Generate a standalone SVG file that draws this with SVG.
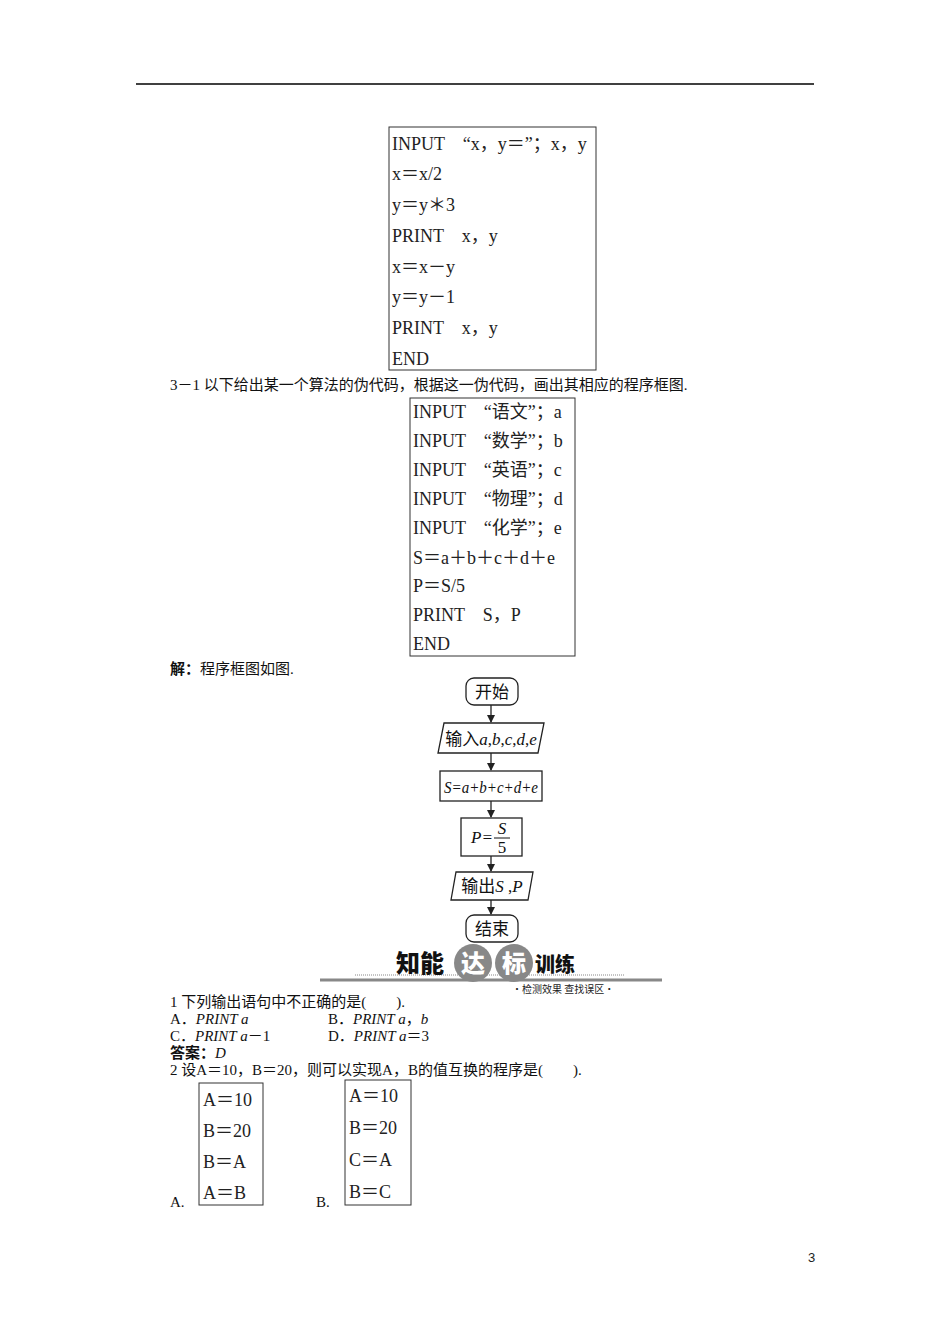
<svg xmlns="http://www.w3.org/2000/svg" width="950" height="1344" viewBox="0 0 950 1344">
<style>
.t{font-family:"Liberation Serif","Noto Sans CJK SC",serif;font-size:18px;fill:#222}
.s{font-family:"Liberation Serif","Noto Sans CJK SC",serif;font-size:15px;fill:#111}
.f{font-family:"Liberation Serif","Noto Sans CJK SC",serif;font-size:17px;fill:#111}
.b{fill:none;stroke:#333;stroke-width:1}
.n{fill:#fff;stroke:#222;stroke-width:1.3}
.c{stroke:#222;stroke-width:1.3;fill:none;marker-end:url(#a)}
</style>
<defs><marker id="a" markerWidth="8" markerHeight="8" refX="7" refY="4" orient="auto" markerUnits="userSpaceOnUse"><path d="M0,0 L8,4 L0,8z" fill="#222"/></marker></defs>
<rect width="950" height="1344" fill="#fff"/>
<line x1="136" y1="84" x2="814" y2="84" stroke="#000" stroke-width="1.3"/>
<rect class="b" x="389" y="127" width="207" height="243"/>
<g class="t"><text x="392" y="150">INPUT　“x，y＝”；x，y</text><text x="392" y="180">x＝x/2</text><text x="392" y="211">y＝y＊3</text><text x="392" y="242">PRINT　x，y</text><text x="392" y="273">x＝x－y</text><text x="392" y="303">y＝y－1</text><text x="392" y="334">PRINT　x，y</text><text x="392" y="365">END</text></g>
<text class="s" x="170" y="390">3－1 以下给出某一个算法的伪代码，根据这一伪代码，画出其相应的程序框图.</text>
<rect class="b" x="410" y="398" width="165" height="258"/>
<g class="t"><text x="413" y="418">INPUT　“语文”；a</text><text x="413" y="447">INPUT　“数学”；b</text><text x="413" y="476">INPUT　“英语”；c</text><text x="413" y="505">INPUT　“物理”；d</text><text x="413" y="534">INPUT　“化学”；e</text><text x="413" y="564">S＝a＋b＋c＋d＋e</text><text x="413" y="592">P＝S/5</text><text x="413" y="621">PRINT　S，P</text><text x="413" y="650">END</text></g>
<text class="s" x="170" y="674"><tspan font-weight="bold">解：</tspan>程序框图如图.</text>
<g id="connectors">
<line class="c" x1="491" y1="705" x2="491" y2="722"/>
<line class="c" x1="491" y1="753" x2="491" y2="770"/>
<line class="c" x1="491" y1="801" x2="491" y2="817"/>
<line class="c" x1="491" y1="856" x2="491" y2="871"/>
<line class="c" x1="491" y1="900" x2="491" y2="914"/>
</g>
<g id="start"><rect class="n" x="466" y="678" width="52" height="27" rx="8"/><text class="f" x="492" y="698" text-anchor="middle">开始</text></g>
<g id="input"><polygon class="n" points="444,723 544,723 538,753 438,753"/><text class="f" x="491" y="745" text-anchor="middle">输入<tspan font-style="italic">a</tspan>,<tspan font-style="italic">b</tspan>,<tspan font-style="italic">c</tspan>,<tspan font-style="italic">d</tspan>,<tspan font-style="italic">e</tspan></text></g>
<g id="sum"><rect class="n" x="440" y="771" width="102" height="30"/><text class="f" x="491" y="793" text-anchor="middle" font-style="italic" textLength="94" lengthAdjust="spacingAndGlyphs">S=a+b+c+d+e</text></g>
<g id="avg"><rect class="n" x="461" y="818" width="61" height="38"/><text class="f" x="482" y="843" text-anchor="middle" font-style="italic">P=</text><text class="f" x="502" y="834" text-anchor="middle" font-style="italic">S</text><line x1="494" y1="838" x2="510" y2="838" stroke="#111"/><text class="f" x="502" y="853" text-anchor="middle">5</text></g>
<g id="output"><polygon class="n" points="456,872 533,872 528,900 451,900"/><text class="f" x="492" y="892" text-anchor="middle">输出<tspan font-style="italic">S</tspan> ,<tspan font-style="italic">P</tspan></text></g>
<g id="end"><rect class="n" x="466" y="915" width="52" height="27" rx="8"/><text class="f" x="492" y="935" text-anchor="middle">结束</text></g>
<g id="banner">
<line x1="355" y1="975" x2="625" y2="975" stroke="#888" stroke-dasharray="1,1"/>
<line x1="320" y1="980" x2="662" y2="980" stroke="#888" stroke-width="3"/>
<circle cx="473" cy="963" r="19" fill="#888"/><circle cx="514" cy="963" r="19" fill="#888"/>
<text x="396" y="972" font-family="Noto Sans CJK SC,sans-serif" font-weight="900" font-size="24" fill="#111">知能</text>
<text x="461" y="972" font-family="Noto Sans CJK SC,sans-serif" font-weight="900" font-size="24" fill="#fff">达</text>
<text x="502" y="972" font-family="Noto Sans CJK SC,sans-serif" font-weight="900" font-size="24" fill="#fff">标</text>
<text x="535" y="972" font-family="Noto Sans CJK SC,sans-serif" font-weight="900" font-size="20" fill="#111">训练</text>
<text x="512" y="993" font-family="Noto Sans CJK SC,sans-serif" font-size="10" fill="#222">•检测效果 查找误区•</text>
</g>
<g class="s"><text x="170" y="1007">1 下列输出语句中不正确的是(　　).</text>
<text x="170" y="1024">A．<tspan font-style="italic">PRINT a</tspan></text><text x="328" y="1024">B．<tspan font-style="italic">PRINT a</tspan>，<tspan font-style="italic">b</tspan></text>
<text x="170" y="1041">C．<tspan font-style="italic">PRINT a</tspan>－1</text><text x="328" y="1041">D．<tspan font-style="italic">PRINT a</tspan>＝3</text>
<text x="170" y="1058"><tspan font-weight="bold">答案：</tspan><tspan font-style="italic">D</tspan></text>
<text x="170" y="1075">2 设A＝10，B＝20，则可以实现A，B的值互换的程序是(　　).</text>
<text x="170" y="1207">A.</text><text x="316" y="1207">B.</text></g>
<rect class="b" x="199" y="1083" width="64" height="122"/>
<g class="t"><text x="203" y="1106">A＝10</text><text x="203" y="1137">B＝20</text><text x="203" y="1168">B＝A</text><text x="203" y="1199">A＝B</text></g>
<rect class="b" x="345" y="1080" width="66" height="125"/>
<g class="t"><text x="349" y="1102">A＝10</text><text x="349" y="1134">B＝20</text><text x="349" y="1166">C＝A</text><text x="349" y="1198">B＝C</text></g>
<text x="808" y="1262" font-family="Liberation Sans,sans-serif" font-size="13" fill="#222">3</text>
</svg>
